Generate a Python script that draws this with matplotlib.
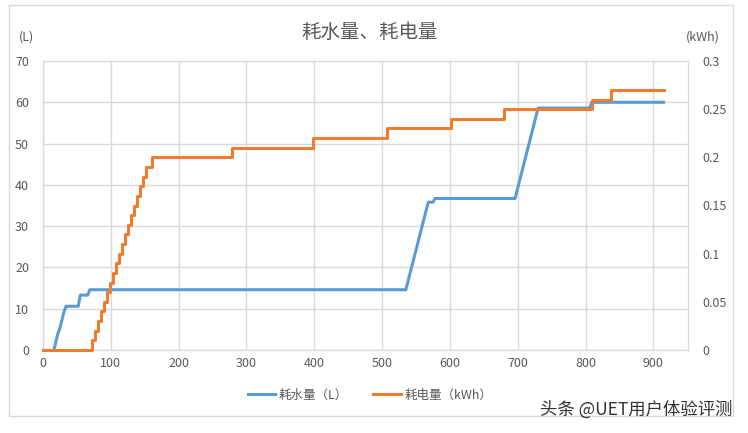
import matplotlib
matplotlib.use("Agg")
import matplotlib.pyplot as plt
from matplotlib.patches import Rectangle

plt.rcParams['font.family'] = ['Noto Sans CJK SC', 'DejaVu Sans']

# water use (L), left axis
water_x = [16, 18, 20, 22, 25, 27, 29, 31, 34, 52, 55, 66, 69, 535, 568, 575, 578, 696, 730, 806, 809, 915]
water_y = [0, 1.3, 2.7, 4.0, 5.3, 6.7, 8.0, 9.3, 10.6, 10.6, 13.3, 13.3, 14.6, 14.6, 35.8, 35.8, 36.7, 36.7, 58.6, 58.6, 60.0, 60.0]

# power use (kWh), right axis, step changes
power_x = [0, 72, 76.5, 81, 85, 90, 94, 99, 103, 107, 112, 116, 121, 125, 130, 134, 139, 143, 148, 152, 160,
           279, 398, 507, 602, 680, 809, 838, 915]
power_y = [0, 0.01, 0.02, 0.03, 0.04, 0.05, 0.06, 0.07, 0.08, 0.09, 0.10, 0.11, 0.12, 0.13, 0.14, 0.15, 0.16,
           0.17, 0.18, 0.19, 0.20, 0.21, 0.22, 0.23, 0.24, 0.25, 0.26, 0.27, 0.27]

blue = '#5b9bd5'
orange = '#ed7d31'
grid = '#d9d9d9'
txt = '#595959'

fig = plt.figure(figsize=(7.48, 4.33), dpi=100)
fig.patches.append(Rectangle((9 / 748, 1 - 416 / 433), 724 / 748, 411 / 433, transform=fig.transFigure,
                             fill=False, edgecolor=grid, linewidth=1))

ax = fig.add_axes([43 / 748, 1 - 350 / 433, 645 / 748, 289 / 433])
ax2 = ax.twinx()

l1, = ax.plot(water_x, water_y, color=blue, linewidth=2.2, label='耗水量（L）', zorder=3, clip_on=False)
l2, = ax2.plot(power_x, power_y, color=orange, linewidth=2.2, drawstyle='steps-post', label='耗电量（kWh）',
               zorder=3, clip_on=False)

ax.set_xlim(0, 951)
ax.set_ylim(0, 70)
ax2.set_ylim(0, 0.3)
ax.set_xticks(range(0, 1000, 100))
ax.set_yticks(range(0, 80, 10))
ax2.set_yticks([0, 0.05, 0.1, 0.15, 0.2, 0.25, 0.3])
ax2.set_yticklabels(['0', '0.05', '0.1', '0.15', '0.2', '0.25', '0.3'])

ax.grid(True, color=grid, linewidth=1)
for a in (ax, ax2):
    for s in a.spines.values():
        s.set_color(grid)
    a.tick_params(length=0, labelsize=9, colors=txt)
ax.tick_params(axis='y', pad=10)
ax2.tick_params(axis='y', pad=10)
ax.tick_params(axis='x', pad=5)
ax.spines['bottom'].set_color('#bfbfbf')

fig.text(27 / 748, 1 - 37 / 433, '(L)', ha='center', va='center', fontsize=9, color=txt)
fig.text(703 / 748, 1 - 37 / 433, '(kWh)', ha='center', va='center', fontsize=9, color=txt)
fig.text(370 / 748, 1 - 32 / 433, '耗水量、耗电量', ha='center', va='center', fontsize=14, color=txt)

fig.legend(handles=[l1, l2], loc='center', bbox_to_anchor=(370 / 748, 1 - 395 / 433), ncol=2, frameon=False,
           fontsize=9, labelcolor=txt, handlelength=2.2, handletextpad=0.3, columnspacing=2.0)

fig.text(733 / 748, 1 - 410 / 433, '头条 @UET用户体验评测', ha='right', va='center', fontsize=12.5, color='#333333')

fig.savefig('out.png', dpi=100)
